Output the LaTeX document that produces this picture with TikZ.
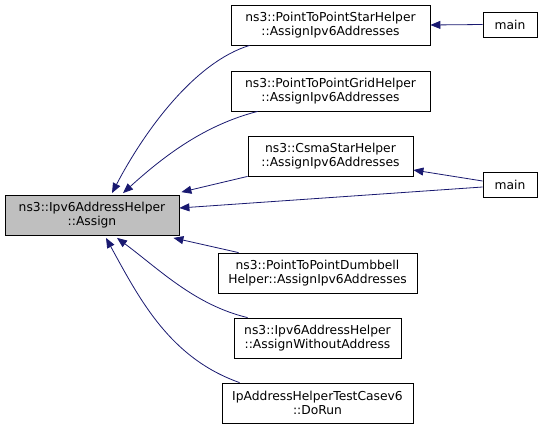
\documentclass[tikz,border=0pt]{standalone}
\usepackage{fontspec}
\setmainfont{DejaVu Sans}
\usetikzlibrary{arrows.meta}
\definecolor{edgeblue}{HTML}{191970}
\definecolor{boxgray}{HTML}{BFBFBF}

\begin{document}
\begin{tikzpicture}[
            x = 1pt, y = -1pt,
            > = {Triangle[length=10pt,width=8pt]}, % arrow head style
            fn/.style = {draw=black, fill=white, line width=0.8pt, align=center,
                         font=\fontsize{12.3}{14}\selectfont, inner sep=0pt, minimum height=40pt},
            call/.style = {->, draw=edgeblue, line width=0.8pt}
        ]
\useasboundingbox (0,0) rectangle (544,429);

\node[fn, fill=boxgray, minimum width=174pt] (assign) at (92,215.5) {ns3::Ipv6AddressHelper\\::Assign};

\node[fn, minimum width=199pt] (star) at (330.5,25) {ns3::PointToPointStarHelper\\::AssignIpv6Addresses};
\node[fn, minimum width=199pt] (grid) at (330.5,91) {ns3::PointToPointGridHelper\\::AssignIpv6Addresses};
\node[fn, minimum width=165pt] (csma) at (330.5,156) {ns3::CsmaStarHelper\\::AssignIpv6Addresses};
\node[fn, minimum width=199pt] (dumb) at (317.5,273) {ns3::PointToPointDumbbell\\Helper::AssignIpv6Addresses};
\node[fn, minimum width=167pt] (noaddr) at (317.5,338) {ns3::Ipv6AddressHelper\\::AssignWithoutAddress};
\node[fn, minimum width=191pt] (test) at (317.5,403) {IpAddressHelperTestCasev6\\::DoRun};

\node[fn, minimum width=54pt, minimum height=25pt] (mainA) at (510,24.5) {main};
\node[fn, minimum width=54pt, minimum height=25pt] (mainB) at (510,184.5) {main};

% callers on the right
\path[call] (mainA.west) -- (star.east);
\path[call] ([yshift=3.5]mainB.west) -- ([yshift=-14]csma.east);
\path[call] ([yshift=-2.5]mainB.west) -- ([yshift=7.5]assign.east);

% callers of Assign
\path[call] ([xshift=19]star.south west) .. controls (195,62) and (145,130) .. ([xshift=20,yshift=2]assign.north);
\path[call] ([xshift=27]grid.south west) .. controls (205,125) and (165,155) .. ([xshift=31,yshift=2]assign.north);
\path[call] (csma.south west) -- ([xshift=2,yshift=3]assign.north east);
\path[call] ([xshift=21]dumb.north west) -- ([xshift=-6,yshift=-2]assign.south east);
\path[call] ([xshift=14]noaddr.north west) .. controls (195,305) and (160,270) .. ([xshift=25,yshift=-2]assign.south);
\path[call] ([xshift=18]test.north west) .. controls (170,358) and (140,300) .. ([xshift=14,yshift=-2]assign.south);
\end{tikzpicture}
\end{document}
